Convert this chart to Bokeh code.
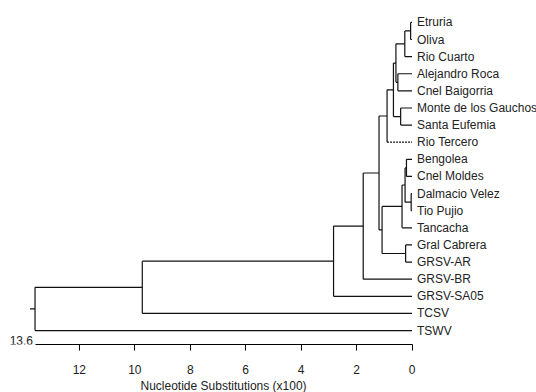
from bokeh.plotting import figure
from bokeh.models import Range1d, FixedTicker, ColumnDataSource, Title
from bokeh.embed import file_html
from bokeh.resources import INLINE
from bokeh.core.properties import value

# ---- data ----
leaves = ["Etruria", "Oliva", "Rio Cuarto", "Alejandro Roca", "Cnel Baigorria",
          "Monte de los Gauchos", "Santa Eufemia", "Rio Tercero", "Bengolea",
          "Cnel Moldes", "Dalmacio Velez", "Tio Pujio", "Tancacha", "Gral Cabrera",
          "GRSV-AR", "GRSV-BR", "GRSV-SA05", "TCSV", "TSWV"]

node_names = ["EO", "EOR", "AC", "P", "MS", "Q", "E", "BM", "DT", "J", "H", "I",
              "G", "D", "C", "B", "A", "ROOT"]
node_left = ["Etruria", "EO", "Alejandro Roca", "EOR", "Monte de los Gauchos", "P", "Q",
             "Bengolea", "Dalmacio Velez", "BM", "J", "Gral Cabrera", "H", "E", "D",
             "C", "B", "A"]
node_right = ["Oliva", "Rio Cuarto", "Cnel Baigorria", "AC", "Santa Eufemia", "MS",
              "Rio Tercero", "Cnel Moldes", "Tio Pujio", "DT", "Tancacha", "GRSV-AR",
              "I", "G", "GRSV-BR", "GRSV-SA05", "TCSV", "TSWV"]
node_height = [0.05, 0.26, 0.51, 0.58, 0.41, 0.67, 0.90, 0.20, 0.03, 0.25, 0.36, 0.23,
               1.08, 1.19, 1.76, 2.83, 9.73, 13.6]
root_stem = 0.18
dashed_leaves = ["Rio Tercero"]
tick_values = [0, 2, 4, 6, 8, 10, 12]
root_label = "13.6"
axis_title = "Nucleotide Substitutions (x100)"

# ---- tree layout ----
pos = {}
for i, name in enumerate(leaves):
    pos[name] = (0.0, float(i))
for name, l, r, h in zip(node_names, node_left, node_right, node_height):
    pos[name] = (h, (pos[l][1] + pos[r][1]) / 2.0)

solid = dict(x0=[], y0=[], x1=[], y1=[])
dashed = dict(x0=[], y0=[], x1=[], y1=[])

def add(d, x0, y0, x1, y1):
    d["x0"].append(x0); d["y0"].append(y0); d["x1"].append(x1); d["y1"].append(y1)

for name, l, r, h in zip(node_names, node_left, node_right, node_height):
    add(solid, h, pos[l][1], h, pos[r][1])
    for c in (l, r):
        tgt = dashed if c in dashed_leaves else solid
        add(tgt, h, pos[c][1], pos[c][0], pos[c][1])
rx, ry = pos["ROOT"]
add(solid, rx + root_stem, ry, rx, ry)

FONT = "Liberation Sans"

p = figure(width=536, height=392, output_backend="svg", toolbar_location=None,
           x_range=Range1d(14.845, -4.491), y_range=Range1d(18.815, -1.278),
           y_axis_location=None, min_border_left=0, min_border_right=0,
           min_border_top=0, min_border_bottom=0)
p.outline_line_color = None
p.xgrid.visible = False
p.ygrid.visible = False
p.background_fill_color = "white"
p.border_fill_color = "white"

p.segment("x0", "y0", "x1", "y1", source=ColumnDataSource(solid),
          line_color="#111111", line_width=1.2)
p.segment("x0", "y0", "x1", "y1", source=ColumnDataSource(dashed),
          line_color="#111111", line_width=1.2, line_dash="2 1")

p.text(x=[0.0] * len(leaves), y=list(range(len(leaves))), text=leaves,
       x_offset=5, text_baseline="middle", text_align="left",
       text_font=value(FONT), text_font_size="12px", text_color="#222222")

p.text(x=[13.6], y=[18.57], text=[root_label], x_offset=-2,
       text_baseline="middle", text_align="right",
       text_font=value(FONT), text_font_size="12px", text_color="#222222")

ax = p.xaxis[0]
ax.ticker = FixedTicker(ticks=tick_values, minor_ticks=[])
ax.bounds = (0, 13.6)
ax.major_tick_out = 6
ax.major_tick_in = 0
ax.minor_tick_out = 0
ax.minor_tick_in = 0
ax.axis_line_color = "black"
ax.major_tick_line_color = "black"
ax.major_label_standoff = 14
ax.major_label_text_font = FONT
ax.major_label_text_font_size = "12px"
ax.major_label_text_color = "#222222"

t = Title(text=axis_title, align="left", offset=140, text_font=FONT,
          text_font_size="12px", text_font_style="normal", text_color="#222222",
          standoff=0)
p.add_layout(t, "below")

open("out.html", "w").write(file_html(p, INLINE))
